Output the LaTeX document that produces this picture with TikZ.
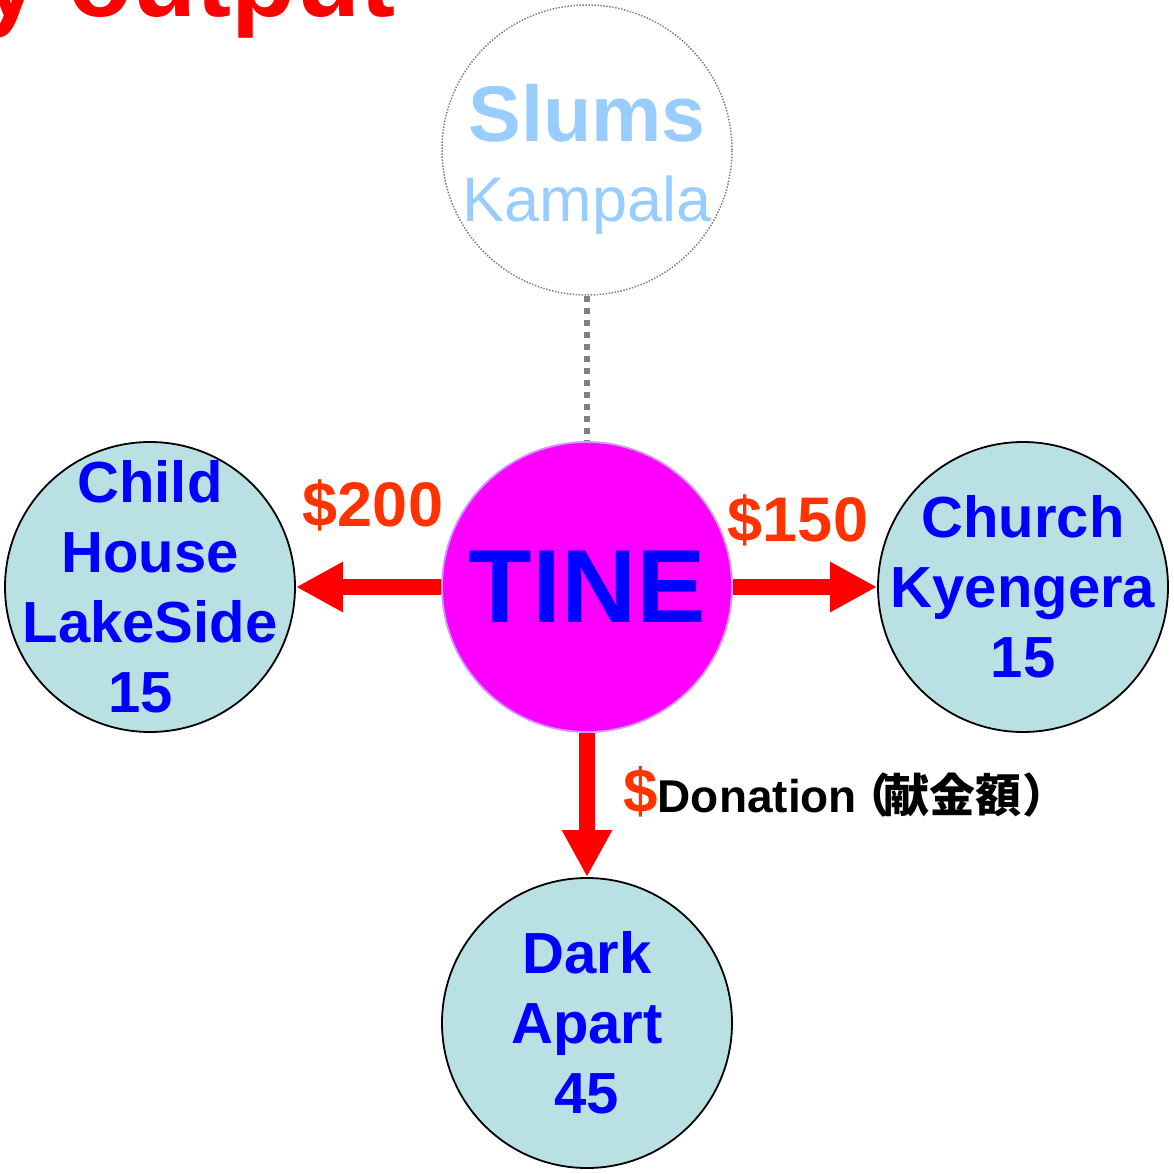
\documentclass[tikz,border=0pt]{standalone}
\usepackage{fontspec}
\setmainfont{Liberation Sans}
\newfontfamily\cjkfont{Noto Sans CJK JP}
\usetikzlibrary{arrows.meta}
\definecolor{nodefill}{HTML}{B9E0E3}
\definecolor{tinefill}{HTML}{FF00FF}
\definecolor{tineedge}{HTML}{CC99FF}
\definecolor{slumsblue}{HTML}{99CCFF}
\definecolor{money}{HTML}{FF3300}
\definecolor{arrred}{HTML}{FF0000}
\definecolor{txtblue}{HTML}{0000FF}
\definecolor{dotgray}{HTML}{808080}
\begin{document}
\begin{tikzpicture}[x=1pt,y=-1pt,
  circ/.style={circle, minimum size=290pt, inner sep=0pt, draw=black, line width=1.8pt, fill=nodefill},
  ctext/.style={text=txtblue, font=\fontsize{58}{70}\selectfont\bfseries, align=center, inner sep=0pt},
  arr/.style={draw=arrred, line width=16pt, -{Triangle[length=47pt,width=47pt]}},
  moneylbl/.style={text=money, font=\fontsize{63}{70}\selectfont\bfseries, inner sep=0pt},
]
\useasboundingbox (0,0) rectangle (1173,1174);
\clip (0,0) rectangle (1173,1174);
% cropped title
\node[anchor=base west, inner sep=0pt, text=arrred, font=\fontsize{105}{110}\selectfont\bfseries] (title) at (-19,17) {y output};
% nodes
\node[circle, minimum size=290pt, inner sep=0pt, draw=dotgray, line width=1.5pt, dash pattern=on 1.5pt off 1.5pt,
  label={[text=slumsblue, align=center, inner sep=0pt, yshift=-9.5pt, font=\fontsize{63}{80}\selectfont]center:{{\fontsize{79}{80}\selectfont\bfseries Slums}\\Kampala}}] (slums) at (587,150) {};
\node[circle, minimum size=290pt, inner sep=0pt, fill=tinefill, draw=tineedge, line width=1.8pt,
  text=txtblue, font=\fontsize{104}{104}\selectfont\bfseries] (tine) at (587,587) {TINE};
\node[circ, label={[ctext]center:{Child\\House\\LakeSide\\15\hspace*{18pt}}}] (child) at (150,587) {};
\node[circ, label={[ctext]center:{Church\\Kyengera\\15}}] (church) at (1023,587) {};
\node[circ, label={[ctext]center:{Dark\\Apart\\45}}] (dark) at (587,1023) {};
% connectors
\draw[draw=dotgray, line width=6pt, dash pattern=on 6pt off 6pt] (slums) -- (tine);
\draw[arr] (tine) -- (child);
\draw[arr] (tine) -- (church);
\draw[arr] (tine) -- (dark);
% labels
\node[moneylbl] (p200) at (373,505) {\$200};
\node[moneylbl] (p150) at (798,520) {\$150};
\node[anchor=base west, inner sep=0pt, font=\fontsize{46}{50}\selectfont\bfseries] (don) at (623,812)
  {\textcolor{money}{\fontsize{62}{60}\selectfont\$}Donation\kern-12pt{\cjkfont （}\kern-8pt{\cjkfont 献金額}\kern2pt{\cjkfont ）}};
\end{tikzpicture}
\end{document}
